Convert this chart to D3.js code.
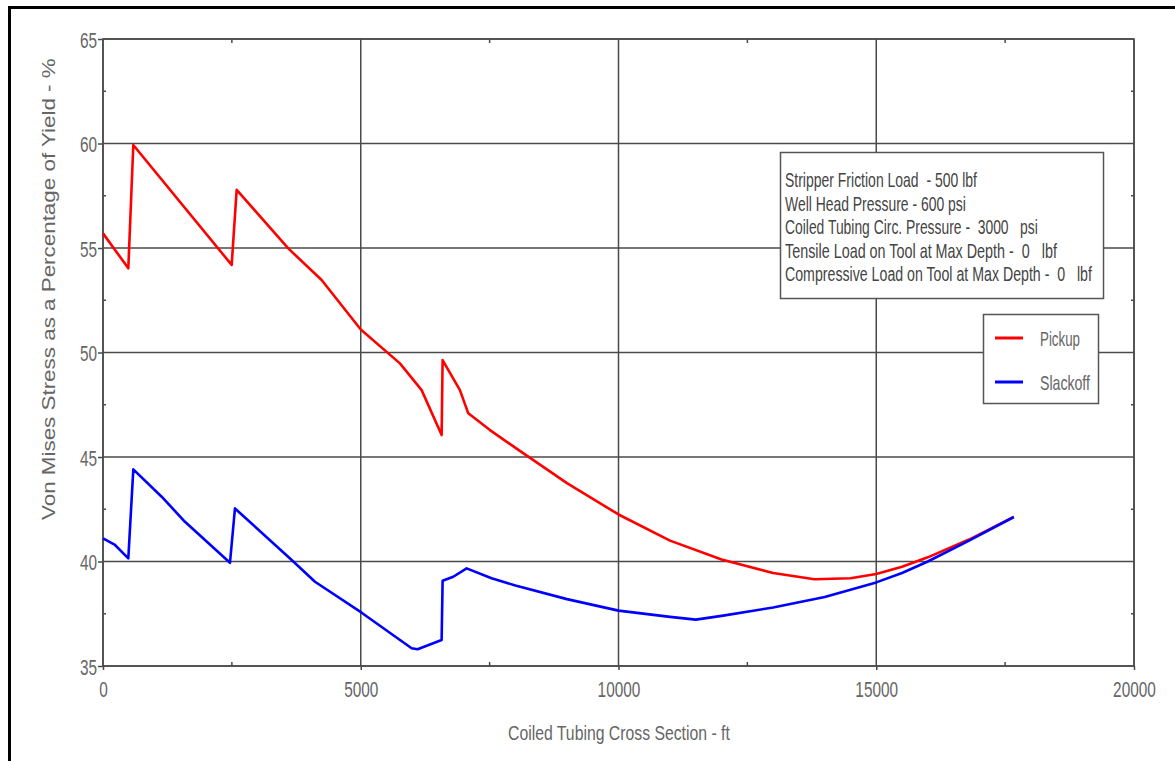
<!DOCTYPE html>
<html><head><meta charset="utf-8">
<script src="https://cdn.jsdelivr.net/npm/d3@7"></script>
<style>
html,body{margin:0;padding:0;background:#fff;}
svg{display:block;}
text{font-family:"Liberation Sans",Arial,sans-serif;}
</style></head>
<body>
<svg id="c" width="1175" height="761"></svg>
<script>
const xTicks = [0, 5000, 10000, 15000, 20000];
const yTicks = [35, 40, 45, 50, 55, 60, 65];
const seriesNames = ["Pickup", "Slackoff"];
const seriesColors = ["#ff0000", "#0000ff"];
const pickupX = [0, 265, 491, 588, 2496, 2593, 3594, 4241, 5000, 5760, 6181, 6569, 6588, 6924, 7086, 7500, 8023, 9000, 10000, 11000, 12000, 13000, 13800, 14500, 15000, 15500, 16000, 16800, 17668];
const pickupY = [55.7, 54.8, 54.03, 59.93, 54.19, 57.78, 54.98, 53.47, 51.1, 49.48, 48.2, 46.05, 49.64, 48.2, 47.09, 46.3, 45.4, 43.75, 42.25, 41.0, 40.1, 39.45, 39.15, 39.2, 39.4, 39.75, 40.2, 41.05, 42.13];
const slackX = [0, 233, 491, 588, 1138, 1590, 2463, 2560, 3660, 4112, 5017, 5987, 6103, 6569, 6588, 6795, 7054, 7538, 8000, 9000, 10000, 11000, 11500, 12000, 13000, 14000, 15000, 15500, 16000, 16800, 17668];
const slackY = [41.11, 40.79, 40.15, 44.41, 43.1, 41.9, 39.94, 42.54, 40.07, 39.03, 37.55, 35.85, 35.8, 36.24, 39.08, 39.27, 39.67, 39.2, 38.85, 38.2, 37.65, 37.35, 37.22, 37.4, 37.8, 38.3, 39.0, 39.45, 40.0, 41.0, 42.13];
const noteLines = [
  "Stripper Friction Load  - 500 lbf",
  "Well Head Pressure - 600 psi",
  "Coiled Tubing Circ. Pressure -  3000   psi",
  "Tensile Load on Tool at Max Depth -  0   lbf",
  "Compressive Load on Tool at Max Depth -  0   lbf"
];
const noteWidths = [192, 181, 253, 272, 307];

const svg = d3.select("#c");
const L = 103, R = 1134, T = 39, B = 666;
const x = d3.scaleLinear().domain([0, 20000]).range([L, R]);
const y = d3.scaleLinear().domain([35, 65]).range([B, T]);
const grid = "#4a4a4a", txt = "#666";
const SX = 0.7;

// squeeze a text horizontally to a target width, anchored at (px, py)
function fitText(sel, px, py, w, rot) {
  sel.each(function (d, i) {
    const t = d3.select(this);
    const nat = this.getComputedTextLength();
    const tw = typeof w === "function" ? w(d, i) : w;
    const ty = typeof py === "function" ? py(d, i) : py;
    t.attr("x", 0).attr("y", 0)
     .attr("transform", `translate(${px},${ty})${rot ? " rotate(" + rot + ")" : ""} scale(${tw / nat},1)`);
  });
}

// outer frame
svg.append("line").attr("x1", 9).attr("x2", 1175).attr("y1", 7.5).attr("y2", 7.5).attr("stroke", "#000").attr("stroke-width", 3);
svg.append("line").attr("x1", 9.5).attr("x2", 9.5).attr("y1", 6).attr("y2", 761).attr("stroke", "#000").attr("stroke-width", 3);

// grid
const g = svg.append("g");
g.selectAll(".vg").data(xTicks).join("line").attr("x1", d => x(d)).attr("x2", d => x(d)).attr("y1", T).attr("y2", B).attr("stroke", grid).attr("stroke-width", 1.5);
g.selectAll(".hg").data(yTicks).join("line").attr("x1", L).attr("x2", R).attr("y1", d => y(d)).attr("y2", d => y(d)).attr("stroke", grid).attr("stroke-width", 1.5);

// axes with ticks
const xMinor = d3.range(2500, 20000, 5000);
const yMinor = d3.range(37.5, 65, 5);
const xa = svg.append("g").attr("transform", `translate(0,${B})`).call(d3.axisBottom(x).tickValues(xTicks).tickSize(4).tickFormat(d3.format("d")));
xa.select(".domain").remove();
xa.selectAll("line").attr("stroke", grid).attr("stroke-width", 1.5);
xa.selectAll("text").attr("font-size", 22).attr("fill", txt).attr("y", 0).attr("dy", 0)
  .attr("transform", `translate(0,31) scale(${SX},1)`);
const ya = svg.append("g").attr("transform", `translate(${L},0)`).call(d3.axisLeft(y).tickValues(yTicks).tickSize(5).tickFormat(d3.format("d")));
ya.select(".domain").remove();
ya.selectAll("line").attr("stroke", grid).attr("stroke-width", 1.5);
ya.selectAll("text").attr("font-size", 22).attr("fill", txt).attr("x", 0).attr("dy", 0)
  .attr("transform", `translate(-6,8) scale(${SX},1)`);

// minor ticks
g.selectAll(".xm").data(xMinor).join("line").attr("x1", d => x(d)).attr("x2", d => x(d)).attr("y1", B).attr("y2", B - 4).attr("stroke", grid).attr("stroke-width", 1.5);
g.selectAll(".xm2").data(xMinor).join("line").attr("x1", d => x(d)).attr("x2", d => x(d)).attr("y1", T).attr("y2", T + 4).attr("stroke", grid).attr("stroke-width", 1.5);
g.selectAll(".ym").data(yMinor).join("line").attr("x1", L).attr("x2", L + 3).attr("y1", d => y(d)).attr("y2", d => y(d)).attr("stroke", grid).attr("stroke-width", 1.5);
g.selectAll(".ym2").data(yMinor).join("line").attr("x1", R).attr("x2", R - 3).attr("y1", d => y(d)).attr("y2", d => y(d)).attr("stroke", grid).attr("stroke-width", 1.5);

// plot frame
svg.append("rect").attr("x", L).attr("y", T).attr("width", R - L).attr("height", B - T).attr("fill", "none").attr("stroke", grid).attr("stroke-width", 1.5);

// series
const line = d3.line().x(d => x(d[0])).y(d => y(d[1]));
const seriesData = [d3.zip(pickupX, pickupY), d3.zip(slackX, slackY)];
seriesData.forEach((s, i) => {
  svg.append("path").datum(s).attr("d", line).attr("fill", "none").attr("stroke", seriesColors[i]).attr("stroke-width", 2.6).attr("stroke-linejoin", "round");
});

// annotation box
svg.append("rect").attr("x", 780.5).attr("y", 152.5).attr("width", 323).attr("height", 146).attr("fill", "#fff").attr("stroke", "#555").attr("stroke-width", 1.5);
svg.append("g").selectAll("text").data(noteLines).join("text")
  .attr("font-size", 20).attr("fill", "#444").style("white-space", "pre").text(d => d)
  .call(fitText, 785, (d, i) => 187 + i * 23.6, (d, i) => noteWidths[i]);

// legend
svg.append("rect").attr("x", 983.5).attr("y", 314.5).attr("width", 115).attr("height", 89).attr("fill", "#fff").attr("stroke", "#555").attr("stroke-width", 1.5);
const lg = svg.append("g").selectAll("g").data(seriesNames).join("g").attr("transform", (d, i) => `translate(0,${338 + i * 44})`);
lg.append("line").attr("x1", 995).attr("x2", 1023).attr("y1", 0).attr("y2", 0).attr("stroke", (d, i) => seriesColors[i]).attr("stroke-width", 3);
lg.append("text").attr("font-size", 20).attr("fill", "#666").text(d => d)
  .call(fitText, 1040, 7.5, (d, i) => [40, 50][i]);

// axis titles
svg.append("text").attr("font-size", 20).attr("fill", txt).text("Coiled Tubing Cross Section - ft")
  .call(fitText, 508, 740, 222);
svg.append("text").attr("font-size", 18.5).attr("fill", txt)
  .text("Von Mises Stress as a Percentage of Yield - %")
  .each(function () {
    const nat = this.getComputedTextLength();
    d3.select(this).attr("transform", `translate(55,520) rotate(-90) scale(${462 / nat},1)`);
  });
</script>
</body></html>
